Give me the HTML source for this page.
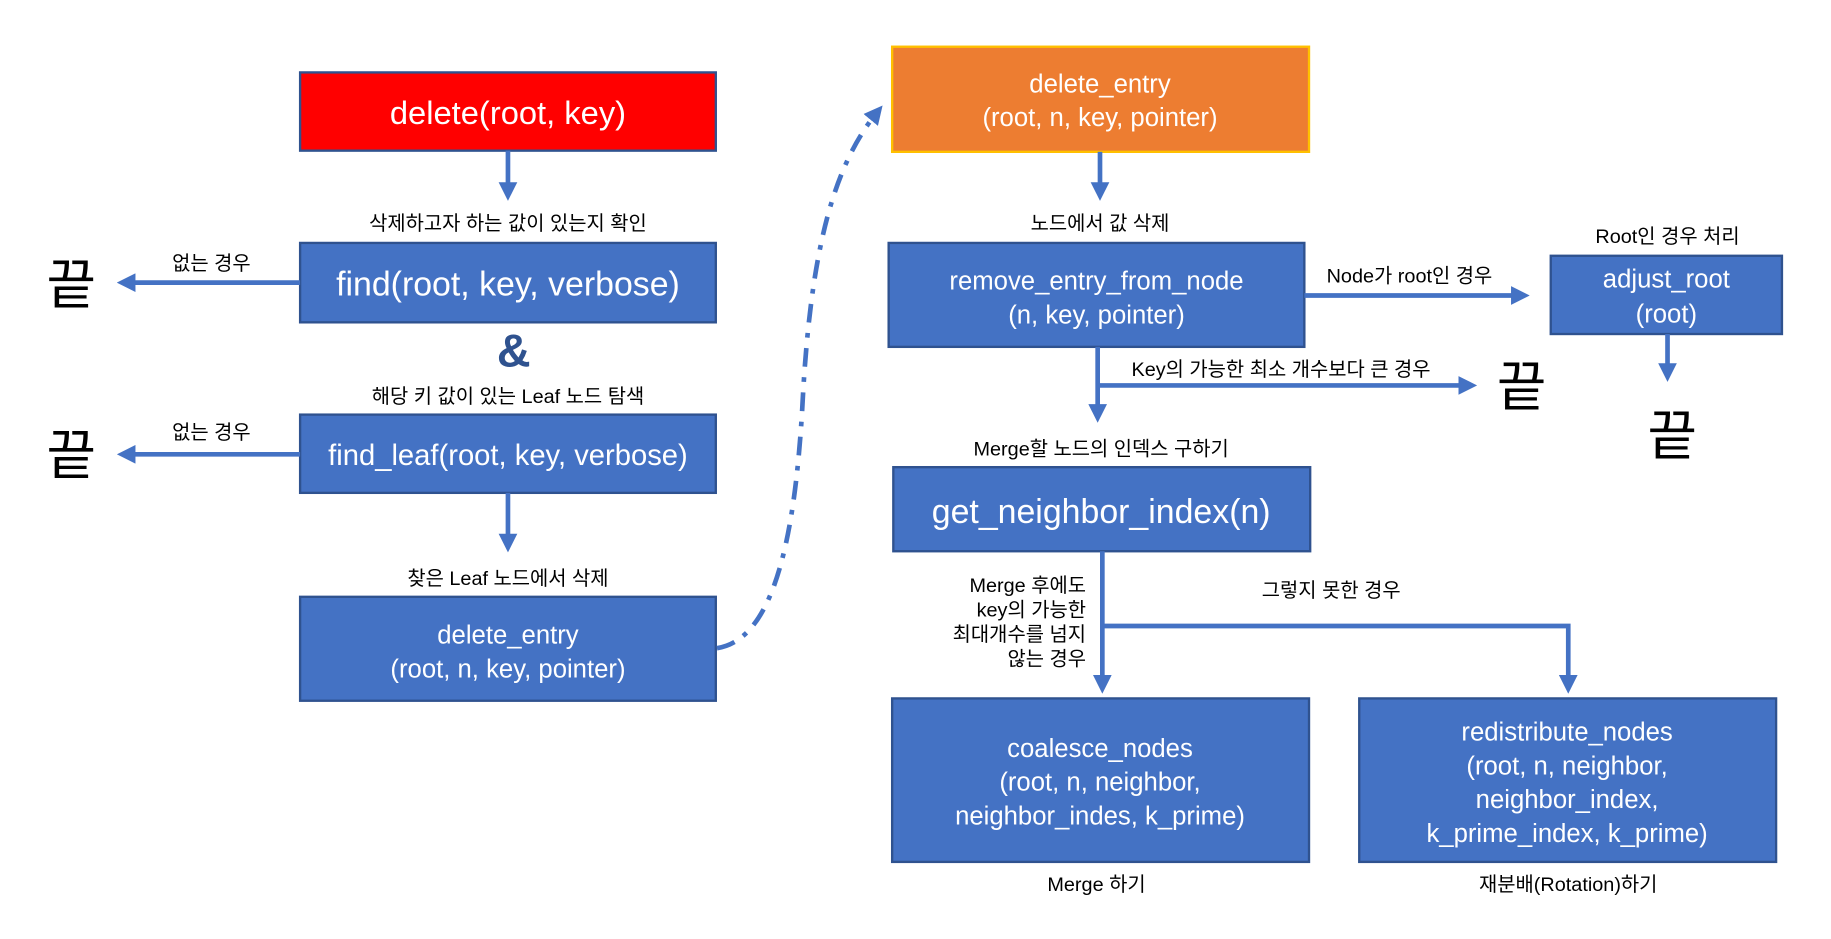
<!DOCTYPE html>
<html><head><meta charset="utf-8"><style>
html,body{margin:0;padding:0;background:#fff;}
svg{display:block}
text{font-family:"Liberation Sans","Noto Sans CJK KR",sans-serif;}
.w{fill:#fff}
.l{font-size:17px;fill:#000}
.b{fill:#4472C4;stroke:#2F528F;stroke-width:2}
.ln{stroke:#4472C4;stroke-width:4;fill:none}
</style></head><body>
<svg width="1831" height="939" viewBox="0 0 1568 804" preserveAspectRatio="none" xmlns="http://www.w3.org/2000/svg">
<defs><marker id="a" markerWidth="4" markerHeight="4" refX="2.5" refY="2" orient="auto" markerUnits="strokeWidth"><path d="M0,0 L4,2 L0,4z" fill="#4472C4"/></marker></defs>
<rect width="1568" height="804" fill="#fff"/>
<!-- left column -->
<rect x="257" y="62" width="356" height="67" fill="#FF0000" stroke="#2F528F" stroke-width="2"/>
<text x="435" y="106" class="w" font-size="28" text-anchor="middle">delete(root, key)</text>
<line class="ln" x1="435" y1="129" x2="435" y2="166" marker-end="url(#a)"/>
<text x="435" y="197" class="l" text-anchor="middle">삭제하고자 하는 값이 있는지 확인</text>
<rect x="257" y="208" width="356" height="68" class="b"/>
<text x="435" y="253" class="w" font-size="29" text-anchor="middle">find(root, key, verbose)</text>
<line class="ln" x1="257" y1="242" x2="106" y2="242" marker-end="url(#a)"/>
<text x="181" y="231" class="l" text-anchor="middle">없는 경우</text>
<text x="61" y="260" font-size="46" text-anchor="middle" fill="#000">끝</text>
<text x="440" y="314" font-size="40" font-weight="bold" fill="#2F528F" text-anchor="middle">&amp;</text>
<text x="435" y="345" class="l" text-anchor="middle">해당 키 값이 있는 Leaf 노드 탐색</text>
<rect x="257" y="355" width="356" height="67" class="b"/>
<text x="435" y="398" class="w" font-size="25" text-anchor="middle">find_leaf(root, key, verbose)</text>
<line class="ln" x1="257" y1="389" x2="106" y2="389" marker-end="url(#a)"/>
<text x="181" y="376" class="l" text-anchor="middle">없는 경우</text>
<text x="61" y="406" font-size="46" text-anchor="middle" fill="#000">끝</text>
<line class="ln" x1="435" y1="422" x2="435" y2="467" marker-end="url(#a)"/>
<text x="435" y="501" class="l" text-anchor="middle">찾은 Leaf 노드에서 삭제</text>
<rect x="257" y="511" width="356" height="89" class="b"/>
<text x="435" y="551" class="w" font-size="22" text-anchor="middle">delete_entry</text>
<text x="435" y="580" class="w" font-size="22" text-anchor="middle">(root, n, key, pointer)</text>
<path class="ln" d="M614,555 C660,548 680,470 687,350 C694,210 715,140 752,95" stroke-dasharray="16,9,4,9" marker-end="url(#a)"/>
<!-- middle column -->
<rect x="764" y="40" width="357" height="90" fill="#ED7D31" stroke="#FFC000" stroke-width="2"/>
<text x="942" y="79" class="w" font-size="22" text-anchor="middle">delete_entry</text>
<text x="942" y="108" class="w" font-size="22" text-anchor="middle">(root, n, key, pointer)</text>
<line class="ln" x1="942" y1="130" x2="942" y2="166" marker-end="url(#a)"/>
<text x="942" y="197" class="l" text-anchor="middle">노드에서 값 삭제</text>
<rect x="761" y="208" width="356" height="89" class="b"/>
<text x="939" y="248" class="w" font-size="22" text-anchor="middle">remove_entry_from_node</text>
<text x="939" y="277" class="w" font-size="22" text-anchor="middle">(n, key, pointer)</text>
<line class="ln" x1="1117" y1="253" x2="1304" y2="253" marker-end="url(#a)"/>
<text x="1207" y="242" class="l" text-anchor="middle">Node가 root인 경우</text>
<text x="1428" y="208" class="l" text-anchor="middle">Root인 경우 처리</text>
<rect x="1328" y="219" width="198" height="67" class="b"/>
<text x="1427" y="246" class="w" font-size="22" text-anchor="middle">adjust_root</text>
<text x="1427" y="276" class="w" font-size="22" text-anchor="middle">(root)</text>
<line class="ln" x1="1428" y1="286" x2="1428" y2="321" marker-end="url(#a)"/>
<text x="1432" y="389" font-size="46" text-anchor="middle" fill="#000">끝</text>
<line class="ln" x1="940" y1="297" x2="940" y2="356" marker-end="url(#a)"/>
<line class="ln" x1="940" y1="330" x2="1259" y2="330" marker-end="url(#a)"/>
<text x="1097" y="322" class="l" text-anchor="middle">Key의 가능한 최소 개수보다 큰 경우</text>
<text x="1303" y="347" font-size="46" text-anchor="middle" fill="#000">끝</text>
<text x="943" y="390" class="l" text-anchor="middle">Merge할 노드의 인덱스 구하기</text>
<rect x="765" y="400" width="357" height="72" class="b"/>
<text x="943" y="448" class="w" font-size="29" text-anchor="middle">get_neighbor_index(n)</text>
<line class="ln" x1="944" y1="472" x2="944" y2="588" marker-end="url(#a)"/>
<polyline class="ln" points="944,536 1343,536 1343,588" marker-end="url(#a)"/>
<text x="930" y="507" class="l" text-anchor="end">Merge 후에도</text>
<text x="930" y="528" class="l" text-anchor="end">key의 가능한</text>
<text x="930" y="549" class="l" text-anchor="end">최대개수를 넘지</text>
<text x="930" y="570" class="l" text-anchor="end">않는 경우</text>
<text x="1140" y="511" class="l" text-anchor="middle">그렇지 못한 경우</text>
<rect x="764" y="598" width="357" height="140" class="b"/>
<text x="942" y="648" class="w" font-size="22" text-anchor="middle">coalesce_nodes</text>
<text x="942" y="677" class="w" font-size="22" text-anchor="middle">(root, n, neighbor,</text>
<text x="942" y="706" class="w" font-size="22" text-anchor="middle">neighbor_indes, k_prime)</text>
<rect x="1164" y="598" width="357" height="140" class="b"/>
<text x="1342" y="634" class="w" font-size="22" text-anchor="middle">redistribute_nodes</text>
<text x="1342" y="663" class="w" font-size="22" text-anchor="middle">(root, n, neighbor,</text>
<text x="1342" y="692" class="w" font-size="22" text-anchor="middle">neighbor_index,</text>
<text x="1342" y="721" class="w" font-size="22" text-anchor="middle">k_prime_index, k_prime)</text>
<text x="939" y="763" class="l" text-anchor="middle">Merge 하기</text>
<text x="1343" y="763" class="l" text-anchor="middle">재분배(Rotation)하기</text>
</svg>
</body></html>
